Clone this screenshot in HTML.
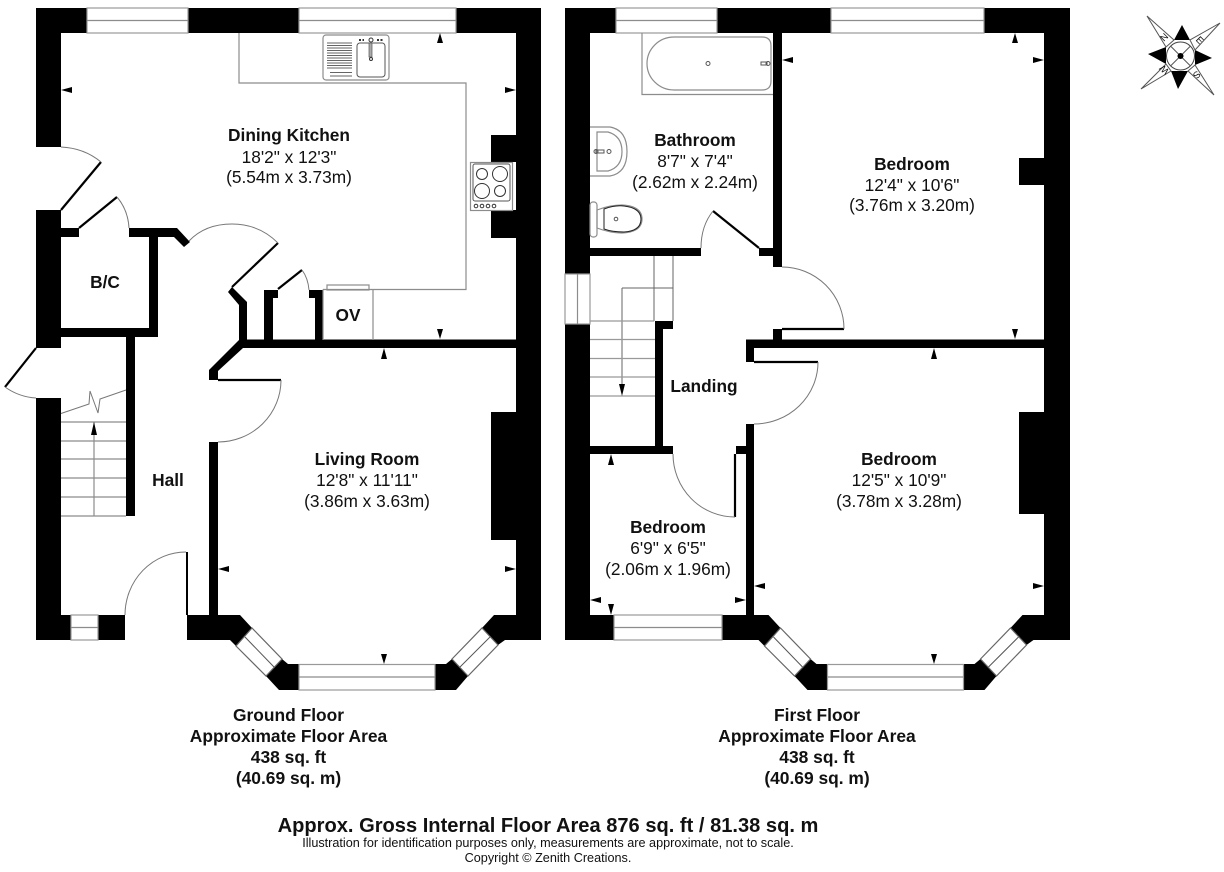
<!DOCTYPE html>
<html><head><meta charset="utf-8"><style>
html,body{margin:0;padding:0;background:#fff}
svg{display:block}
text{font-family:"Liberation Sans",sans-serif;text-anchor:middle;fill:#111}
.b{font-weight:bold;font-size:17.3px}
.r{font-size:17.3px}
.f{font-weight:bold;font-size:17.4px}
.g{fill:none;stroke:#8c8c8c;stroke-width:1.2}
.t{fill:none;stroke:#555;stroke-width:1}
.w{fill:#fff;stroke:#999;stroke-width:1.2}
.leaf{fill:none;stroke:#000;stroke-width:2.2}
.arc{fill:none;stroke:#777;stroke-width:1}
</style></head><body>
<svg width="1224" height="872" viewBox="0 0 1224 872" xmlns="http://www.w3.org/2000/svg">
<rect width="1224" height="872" fill="#fff"/>

<!-- GROUND FLOOR walls -->
<g fill="#000">
<rect x="36" y="8" width="505" height="25"/>
<rect x="36" y="8" width="25" height="139"/>
<rect x="36" y="210" width="25" height="138"/>
<rect x="36" y="398" width="25" height="242"/>
<rect x="36" y="615" width="89" height="25"/>
<rect x="516" y="8" width="25" height="632"/>
<rect x="491" y="135" width="25" height="27"/>
<rect x="491" y="210" width="25" height="28"/>
<rect x="491" y="412" width="25" height="128"/>
<polygon points="61,228 79,228 79,237 61,237"/>
<polygon points="129,228 177,228 190,242 184,247 174,237 158,237 158,337 61,337 61,328 149,328 149,237 129,237"/>
<rect x="126" y="337" width="9" height="179"/>
<polygon points="228,292 232,287 247,302 247,340 239,340 239,305"/>
<rect x="239" y="339.5" width="277" height="8.5"/>
<polygon points="239,340 247,348 243,348 218,371 218,380 209,380 209,370"/>
<rect x="209" y="442" width="9" height="173"/>
<rect x="264" y="290" width="14" height="8"/><rect x="264" y="290" width="9" height="50"/>
<rect x="309" y="290" width="14" height="8"/><rect x="315" y="290" width="8" height="50"/>
<rect x="186" y="552" width="2" height="63"/>
<!-- bay -->
<polygon points="187,615 240,615 252,628 236,646 230,640 187,640"/>
<polygon points="282,659 288,664 299,664 299,690 279,690 266,676"/>
<polygon points="435,664 446,664 452,659 468,676 456,690 435,690"/>
<polygon points="482,628 494,615 516,615 541,640 505,640 498,645"/>
</g>
<!-- windows -->
<g>
<rect class="w" x="87" y="8" width="101" height="25"/><path class="g" d="M87 20.5H188"/>
<rect class="w" x="299" y="8" width="157" height="25"/><path class="g" d="M299 20.5H456"/>
<rect class="w" x="71" y="615" width="27" height="25"/><path class="g" d="M71 627.5H98"/>
<rect class="w" x="299" y="664.5" width="136" height="25.5"/><path class="g" d="M299 677H435"/>
<polygon class="w" style="stroke:#666" points="252,628 282,659 266,676 236,646"/><path class="t" d="M245 637L274 667"/>
<polygon class="w" style="stroke:#666" points="452,659 482,628 498,645 468,676"/><path class="t" d="M460 667L490 637"/>
</g>
<!-- doors -->
<path class="leaf" d="M61 210L101 162"/><path class="arc" d="M101 162Q84 148 61 147"/>
<path class="leaf" d="M79 228L117 197"/><path class="arc" d="M117 197Q128 210 129 228"/>
<path class="leaf" d="M232 287L278 243"/><path class="arc" d="M189 241Q205 224 232 224Q259 224 278 243"/>
<path class="leaf" d="M278 289L302 270"/><path class="arc" d="M302 270Q308 278 309 290"/>
<path class="leaf" d="M36 348L5 387"/><path class="arc" d="M5 387Q19 397 36 398"/>
<path class="leaf" d="M218 380H281"/><path class="arc" d="M281 380A63 62 0 0 1 218 442"/>
<path class="arc" d="M186 552A61 63 0 0 0 125 615"/>
<!-- worktop -->
<path class="g" d="M239 33V83H466V289.5H323M373 289.5V340M323 289.5V340"/>
<rect class="g" x="327" y="285" width="42" height="5"/>
<!-- sink -->
<rect class="g" x="323" y="35" width="66" height="45" rx="3"/>
<rect class="t" x="357" y="43" width="28" height="34" rx="3"/>
<path fill="none" stroke="#333" stroke-width="0.8" d="M327 43H352M327 45.5H352M327 48H352M327 50.5H352M327 53H352M327 55.5H352M327 58H352M327 60.5H352M327 63H352M327 65.5H352M327 68H352M330 72.5H352M330 76H352"/>
<rect x="369" y="43" width="3" height="14" fill="#aaa" stroke="#555" stroke-width=".7"/>
<circle cx="371" cy="40" r="2" fill="none" stroke="#333"/><circle cx="371" cy="59" r="1.5" fill="none" stroke="#333"/>
<path stroke="#333" stroke-width="2" stroke-dasharray="2 1.5" d="M359 40H364M377 40H384"/>
<!-- hob -->
<rect class="g" x="470.500" y="162.500" width="42" height="48"/>
<rect class="t" x="473" y="164" width="37" height="37" rx="2"/>
<g fill="none" stroke="#333" stroke-width="1">
<circle cx="482" cy="174" r="5.500"/><circle cx="500" cy="174" r="7.500"/><circle cx="482" cy="191" r="7.500"/><circle cx="500" cy="191" r="5.500"/>
<circle cx="476" cy="206" r="1.800"/><circle cx="482" cy="206" r="1.800"/><circle cx="488" cy="206" r="1.800"/><circle cx="494" cy="206" r="1.800"/>
</g>
<!-- stairs ground -->
<path class="g" d="M61 422H126M61 441H126M61 459H126M61 478H126M61 497H126M61 516H126M94 422V516"/>
<path fill="none" stroke="#777" d="M61 413.500L89 404L90 391L98 413L100 399L126 390"/>

<!-- arrows ground -->
<g fill="#000">
<polygon points="61,90 72,87 72,93"/><polygon points="516,90 505,87 505,93"/>
<polygon points="440,33 437,43 443,43"/><polygon points="440,339 437,329 443,329"/>
<polygon points="384,348 381,359 387,359"/><polygon points="384,664 381,654 387,654"/>
<polygon points="218,569 229,566 229,572"/><polygon points="516,569 505,566 505,572"/>
<polygon points="94,422 91,435 97,435"/>
</g>

<!-- FIRST FLOOR walls -->
<g fill="#000">
<rect x="565" y="8" width="505" height="25"/>
<rect x="565" y="8" width="25" height="266"/>
<rect x="565" y="324" width="25" height="316"/>
<rect x="565" y="615" width="157" height="25"/>
<rect x="1044" y="8" width="26" height="632"/>
<rect x="1019" y="158" width="25" height="27"/>
<rect x="1019" y="412" width="25" height="102"/>
<rect x="773" y="33" width="9" height="234"/>
<rect x="590" y="248" width="111" height="8"/>
<rect x="759" y="248" width="14" height="8"/>
<rect x="773" y="329" width="9" height="11"/>
<rect x="746" y="339.500" width="298" height="8.500"/>
<rect x="746" y="340" width="8" height="22"/>
<rect x="746" y="424" width="8" height="191"/>
<rect x="655" y="321" width="18" height="8"/>
<rect x="655" y="321" width="8" height="126"/>
<rect x="590" y="446" width="83" height="8"/>
<rect x="736" y="446" width="10" height="8"/>
<!-- bay -->
<polygon points="722,615 768.500,615 780.500,628 764.500,646 758.500,640 722,640"/>
<polygon points="810.500,659 816.500,664 827.500,664 827.500,690 807.500,690 794.500,676"/>
<polygon points="963.500,664 974.500,664 980.500,659 996.500,676 984.500,690 963.500,690"/>
<polygon points="1010.500,628 1022.500,615 1044,615 1070,640 1033.500,640 1026.500,645"/>
</g>
<g>
<rect class="w" x="616" y="8" width="101" height="25"/><path class="g" d="M616 20.500H717"/>
<rect class="w" x="831" y="8" width="153" height="25"/><path class="g" d="M831 20.500H984"/>
<rect class="w" x="565" y="274" width="25" height="50"/><path class="g" d="M577.500 274V324"/>
<rect class="w" x="614" y="615" width="108" height="25"/><path class="g" d="M614 627.500H722"/>
<rect class="w" x="827.500" y="664.500" width="136" height="25.500"/><path class="g" d="M827.500 677H963.500"/>
<polygon class="w" style="stroke:#666" points="780.500,628 810.500,659 794.500,676 764.500,646"/><path class="t" d="M773.500 637L802.500 667"/>
<polygon class="w" style="stroke:#666" points="980.500,659 1010.500,628 1026.500,645 996.500,676"/><path class="t" d="M988.500 667L1018.500 637"/>
</g>
<path class="leaf" d="M759 248L713 211"/><path class="arc" d="M713 211Q701 226 701 248"/>
<path class="leaf" d="M782 329H844"/><path class="arc" d="M782 267A62 62 0 0 1 844 329"/>
<path class="leaf" d="M754 362H818"/><path class="arc" d="M818 362A64 62 0 0 1 754 424"/>
<path class="leaf" d="M735 454V517"/><path class="arc" d="M735 517A62 63 0 0 1 673 454"/>
<!-- stairs first -->
<path fill="none" stroke="#666" stroke-width="1" d="M654 256V321M673 256V321M622 288H673M622 288V386"/>
<path fill="none" stroke="#999" stroke-width="1.200" d="M590 321H654M590 339.500H655M590 358.500H655M590 377H655M590 396H655"/>
<!-- bath -->
<path class="g" d="M642 33V94.500H773"/>
<path class="g" stroke="#666" d="M674 37H762Q771 37 771 46V81Q771 90 762 90H674A27 26.500 0 0 1 674 37Z"/>
<circle cx="708" cy="63.500" r="2" class="t"/><circle cx="768" cy="63.500" r="2" class="t"/><path class="t" d="M761 62H767V65H761Z"/>
<!-- basin -->
<path class="g" d="M590 127H610Q627 130 627 151.500Q627 173 610 176H590"/>
<path class="g" d="M597 132H608Q622 136 622 151.500Q622 167 608 171H597Z"/>
<circle cx="609" cy="151.500" r="2" class="t"/><circle cx="596" cy="151.500" r="2" class="t"/><path class="t" d="M596 150H604V153H596Z"/>
<!-- wc -->
<rect class="g" x="590" y="202" width="7" height="35" rx="3"/>
<path class="g" d="M597 210Q610 205 622 205Q642 206 642 219Q642 232 622 233Q610 233 597 228Z"/>
<path fill="none" stroke="#222" stroke-width="1" d="M604 209Q615 205 624 206Q641 208 641 219Q641 231 624 232Q612 232 604 229Z"/>
<circle cx="616" cy="219" r="1.800" class="t"/>
<!-- arrows first -->
<g fill="#000">
<polygon points="782,60 793,57 793,63"/><polygon points="1044,60 1033,57 1033,63"/>
<polygon points="1015,33 1012,43 1018,43"/><polygon points="1015,339 1012,329 1018,329"/>
<polygon points="934,348 931,359 937,359"/><polygon points="934,664 931,654 937,654"/>
<polygon points="754,586 765,583 765,589"/><polygon points="1044,586 1033,583 1033,589"/>
<polygon points="611,454 608,465 614,465"/><polygon points="611,615 608,604 614,604"/>
<polygon points="590,600 601,597 601,603"/><polygon points="746,600 735,597 735,603"/>
<polygon points="622,396 619,384 625,384"/>
</g>

<!-- compass -->
<g>
<polygon fill="#000" points="1182,25 1190,40 1174,40"/>
<polygon fill="#000" points="1212,58 1195,65 1195,50"/>
<polygon fill="#000" points="1178,89 1171,71 1188,71"/>
<polygon fill="#000" points="1148,54 1166,47 1166,64"/>
<polygon fill="#fff" stroke="#555" stroke-width="1" points="1147,16 1174,40 1166,47"/>
<polygon fill="#fff" stroke="#555" stroke-width="1" points="1220,23 1195,50 1190,40"/>
<polygon fill="#fff" stroke="#555" stroke-width="1" points="1214,95 1188,71 1195,65"/>
<polygon fill="#fff" stroke="#555" stroke-width="1" points="1141,89 1166,64 1171,71"/>
<circle cx="1180.500" cy="56" r="14" fill="#fff" stroke="#444" stroke-width="1"/>
<path stroke="#555" d="M1170.500 46L1190.500 66M1190.500 46L1170.500 66"/>
<circle cx="1180.500" cy="56" r="3" fill="#000"/>
<text transform="translate(1164 37) rotate(-45)" style="font-size:9.500px" y="3.500">N</text>
<text transform="translate(1200 40) rotate(45)" style="font-size:9.500px" y="3.500">E</text>
<text transform="translate(1197 75) rotate(135)" style="font-size:9.500px" y="3.500">S</text>
<text transform="translate(1164 70) rotate(225)" style="font-size:9.500px" y="3.500">W</text>
</g>

<!-- labels -->
<text class="b" x="289" y="141">Dining Kitchen</text>
<text class="r" x="289" y="163">18'2" x 12'3"</text>
<text class="r" x="289" y="183">(5.54m x 3.73m)</text>
<text class="b" x="105" y="288">B/C</text>
<text class="b" x="348" y="321">OV</text>
<text class="b" x="168" y="486">Hall</text>
<text class="b" x="367" y="465">Living Room</text>
<text class="r" x="367" y="486">12'8" x 11'11"</text>
<text class="r" x="367" y="507">(3.86m x 3.63m)</text>
<text class="b" x="695" y="146">Bathroom</text>
<text class="r" x="695" y="167">8'7" x 7'4"</text>
<text class="r" x="695" y="188">(2.62m x 2.24m)</text>
<text class="b" x="912" y="170">Bedroom</text>
<text class="r" x="912" y="191">12'4" x 10'6"</text>
<text class="r" x="912" y="211">(3.76m x 3.20m)</text>
<text class="b" x="704" y="392">Landing</text>
<text class="b" x="668" y="533">Bedroom</text>
<text class="r" x="668" y="554">6'9" x 6'5"</text>
<text class="r" x="668" y="575">(2.06m x 1.96m)</text>
<text class="b" x="899" y="465">Bedroom</text>
<text class="r" x="899" y="486">12'5" x 10'9"</text>
<text class="r" x="899" y="507">(3.78m x 3.28m)</text>

<text class="f" x="288.500" y="721">Ground Floor</text>
<text class="f" x="288.500" y="742">Approximate Floor Area</text>
<text class="f" x="288.500" y="763">438 sq. ft</text>
<text class="f" x="288.500" y="784">(40.69 sq. m)</text>
<text class="f" x="817" y="721">First Floor</text>
<text class="f" x="817" y="742">Approximate Floor Area</text>
<text class="f" x="817" y="763">438 sq. ft</text>
<text class="f" x="817" y="784">(40.69 sq. m)</text>

<text x="548" y="832" style="font-weight:bold;font-size:20.100px">Approx. Gross Internal Floor Area 876 sq. ft / 81.38 sq. m</text>
<text x="548" y="847" style="font-size:12.650px">Illustration for identification purposes only, measurements are approximate, not to scale.</text>
<text x="548" y="862" style="font-size:12.650px">Copyright © Zenith Creations.</text>
</svg>
</body></html>
